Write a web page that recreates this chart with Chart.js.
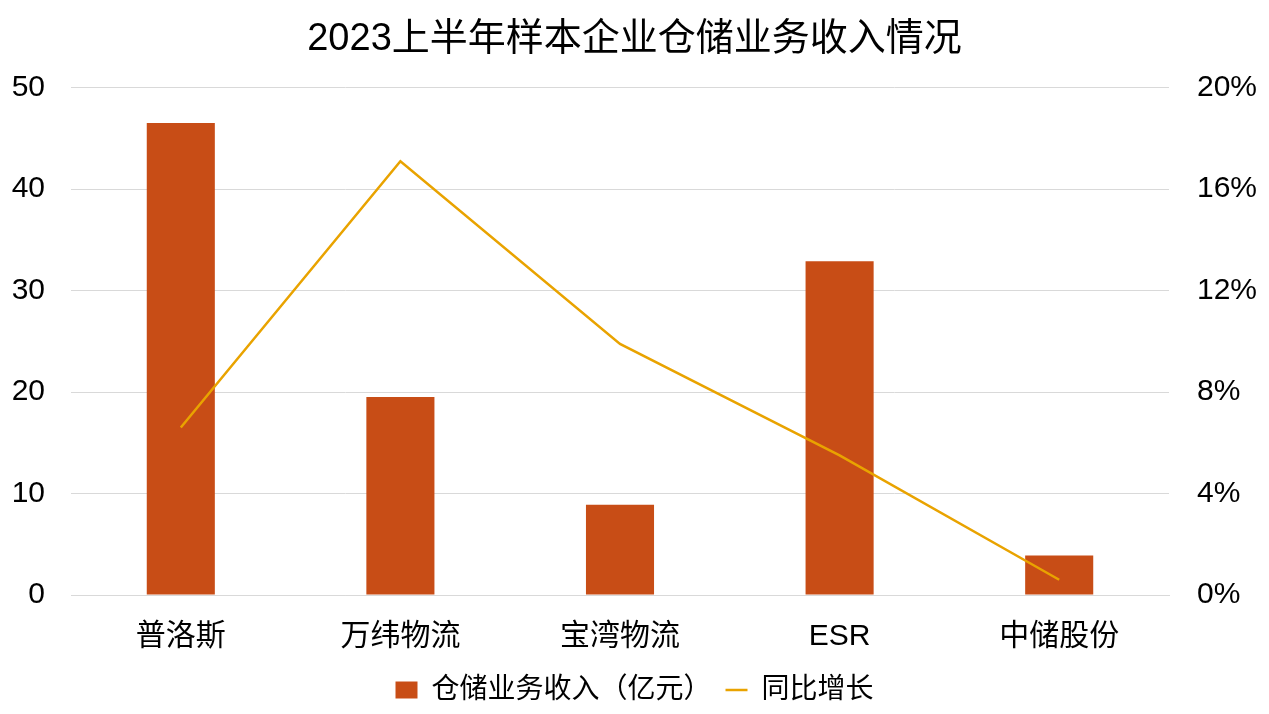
<!DOCTYPE html>
<html lang="zh">
<head>
    <meta charset="UTF-8">
    <title>2023上半年样本企业仓储业务收入情况</title>
    <script src="https://cdn.jsdelivr.net/npm/chart.js"></script>
    <style>
        html, body { margin: 0; padding: 0; background: #fff; }
        .chart-box { width: 1269px; height: 714px; }
    </style>
</head>
<body>
    <div class="chart-box">
        <canvas id="storageChart"></canvas>
    </div>
    <script>
        const categories = ['普洛斯', '万纬物流', '宝湾物流', 'ESR', '中储股份'];
        const revenue = [46.5, 19.5, 8.9, 32.9, 3.9];      // 亿元
        const growth = [6.6, 17.1, 9.9, 5.5, 0.6];          // %

        const fontFamily = '"Liberation Sans", Arial, "Noto Sans CJK SC", sans-serif';

        new Chart(document.getElementById('storageChart'), {
            data: {
                labels: categories,
                datasets: [
                    {
                        type: 'line',
                        label: '同比增长',
                        data: growth,
                        yAxisID: 'y1',
                        borderColor: '#E9A300',
                        backgroundColor: '#E9A300',
                        borderWidth: 2.5,
                        pointRadius: 0,
                        pointStyle: 'line',
                        tension: 0,
                        order: 0
                    },
                    {
                        type: 'bar',
                        label: '仓储业务收入（亿元）',
                        data: revenue,
                        yAxisID: 'y',
                        backgroundColor: '#C84D16',
                        pointStyle: 'rect',
                        barPercentage: 0.31,
                        categoryPercentage: 1,
                        order: 1
                    }
                ]
            },
            options: {
                responsive: true,
                maintainAspectRatio: false,
                animation: false,
                layout: { padding: { left: 10, right: 10, top: 0, bottom: 0 } },
                plugins: {
                    title: {
                        display: true,
                        text: '2023上半年样本企业仓储业务收入情况',
                        color: '#000',
                        font: { family: fontFamily, size: 38, weight: 'normal' },
                        padding: { top: 17, bottom: 25 }
                    },
                    legend: {
                        position: 'bottom',
                        reverse: true,
                        labels: {
                            color: '#000',
                            font: { family: fontFamily, size: 28 },
                            usePointStyle: true,
                            pointStyleWidth: 22,
                            boxHeight: 17,
                            padding: 14
                        }
                    },
                    tooltip: { enabled: false }
                },
                scales: {
                    x: {
                        grid: { display: false },
                        border: { color: '#d9d9d9' },
                        afterFit: s => { s.height -= 9; },
                        ticks: { color: '#000', font: { family: fontFamily, size: 30 }, padding: 16 }
                    },
                    y: {
                        position: 'left',
                        min: 0,
                        max: 50,
                        afterFit: s => { s.width = 61; },
                        ticks: { stepSize: 10, color: '#000', font: { family: fontFamily, size: 30 }, padding: 26 },
                        grid: { color: '#d9d9d9', drawTicks: false },
                        border: { display: false }
                    },
                    y1: {
                        position: 'right',
                        min: 0,
                        max: 20,
                        afterFit: s => { s.width = 90; },
                        ticks: {
                            stepSize: 4,
                            color: '#000',
                            font: { family: fontFamily, size: 30 },
                            padding: 28,
                            callback: v => v + '%'
                        },
                        grid: { display: false, drawTicks: false },
                        border: { display: false }
                    }
                }
            }
        });
    </script>
</body>
</html>
